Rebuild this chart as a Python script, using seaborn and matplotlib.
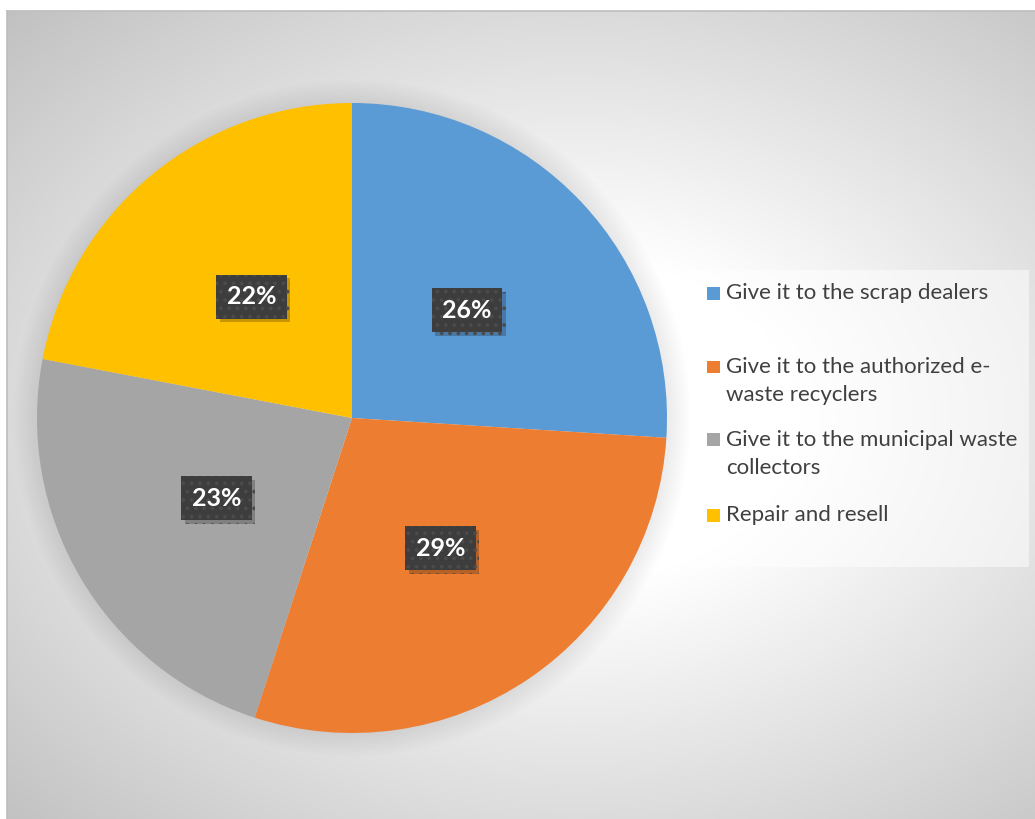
import numpy as np
import matplotlib
matplotlib.use("Agg")
import matplotlib.pyplot as plt
import matplotlib.patheffects as pe
from matplotlib.patches import Circle, Rectangle
import seaborn as sns

# Survey responses: what people do with their e-waste
categories = [
    "Give it to the scrap dealers",
    "Give it to the authorized e-\nwaste recyclers",
    "Give it to the municipal waste\ncollectors",
    "Repair and resell",
]
shares = [26, 29, 23, 22]
colors = ["#5B9BD5", "#ED7D31", "#A5A5A5", "#FFC000"]

sns.set_theme(style="white")
plt.rcParams["font.family"] = ["Lato", "DejaVu Sans"]
plt.rcParams["hatch.linewidth"] = 1.5

W, H = 1035, 819
fig = plt.figure(figsize=(W / 100, H / 100), dpi=100)
fig.patch.set_facecolor("white")


def fx(x):
    return x / W


def fy(y):
    return 1 - y / H


# chart-area background: soft radial gradient, white in the middle, grey at the corners
bg = fig.add_axes([fx(7), 0, 1 - fx(7), 1 - 11 / H])
gw, gh = W - 7, H - 11
xx, yy = np.meshgrid(np.arange(gw), np.arange(gh))
cxg, cyg = 568.0, 409.0
d = np.sqrt(((xx - cxg) / 568.0) ** 2 + ((yy - cyg) / 409.0) ** 2) / np.sqrt(2)
t = np.clip((d - 0.28) / 0.72, 0, 1)
g = (255 - 62 * t) / 255.0
bg.imshow(np.dstack([g, g, g]), aspect="auto", interpolation="bilinear")
bg.set_xticks([])
bg.set_yticks([])
for side in ["right", "bottom"]:
    bg.spines[side].set_visible(False)
for side in ["top", "left"]:
    bg.spines[side].set_color("#bdbdbd")
    bg.spines[side].set_linewidth(1.2)

# pie axes (radius 1 in data units)
R = 315
cx, cy = 352, 418
lim = 1.25
half = lim * R
ax = fig.add_axes([fx(cx - half), fy(cy + half), 2 * half / W, 2 * half / H])
ax.set_xlim(-lim, lim)
ax.set_ylim(-lim, lim)
ax.set_aspect("equal")
ax.axis("off")
ax.patch.set_alpha(0)

# soft glow/shadow around the pie
n = 20
for i in range(n):
    ax.add_patch(Circle((0, 0), 1 + 0.075 * (i + 1) / n, color="black",
                        alpha=0.0045, lw=0, zorder=0))

wedges, _, autotexts = ax.pie(
    shares, colors=colors, startangle=90, counterclock=False,
    radius=1, autopct="%d%%", pctdistance=0.5,
    wedgeprops=dict(linewidth=0),
    textprops=dict(color="white", fontsize=18, fontweight="bold"),
)
for w in wedges:
    w.set_zorder(2)
for at in autotexts:
    at.set_zorder(5)
    at.set_bbox(dict(boxstyle="square,pad=0.42", facecolor="#3d3d3d",
                     edgecolor="#4b4b4b", hatch="..", linewidth=0))
    patch = at.get_bbox_patch()
    patch.set_path_effects([
        pe.SimplePatchShadow(offset=(2.5, -2.5), shadow_rgbFace="black", alpha=0.22),
        pe.Normal(),
    ])
ax.set_xlim(-lim, lim)
ax.set_ylim(-lim, lim)

# legend panel
fig.add_artist(Rectangle((fx(695), fy(567)), 334 / W, 297 / H,
                         transform=fig.transFigure, facecolor="white",
                         alpha=0.5, lw=0, zorder=1))
entry_y = [293, 367, 440, 515]
for lab, col, y in zip(categories, colors, entry_y):
    fig.add_artist(Rectangle((fx(707), fy(y + 6.5)), 13 / W, 13 / H,
                             transform=fig.transFigure, facecolor=col,
                             lw=0, zorder=3))
    fig.text(fx(726), fy(y - 10), lab, ha="left", va="top",
             fontsize=16, color="#404040", linespacing=1.48, zorder=3)

fig.savefig("out.png", dpi=100)
